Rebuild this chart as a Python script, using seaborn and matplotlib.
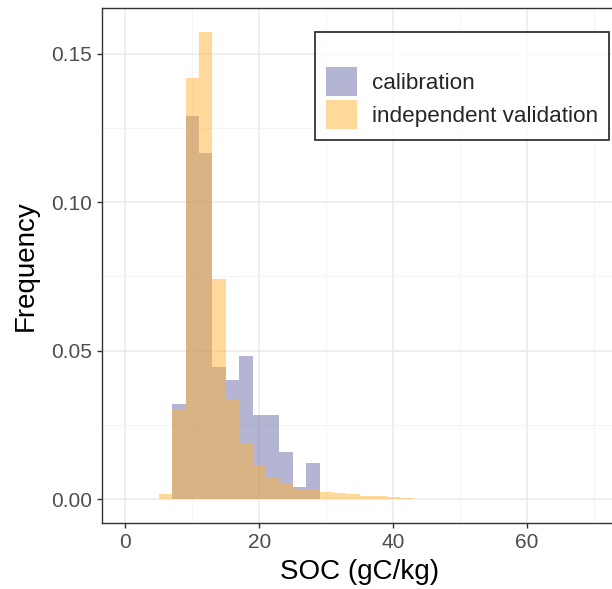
import numpy as np
import pandas as pd
import matplotlib
matplotlib.use("Agg")
import matplotlib.pyplot as plt
from matplotlib.patches import Patch
from matplotlib.ticker import MultipleLocator
import seaborn as sns

# ---- data ----
bin_edges = [5, 7, 9, 11, 13, 15, 17, 19, 21, 23, 25, 27, 29, 31, 33, 35, 37,
             39, 41, 43, 45, 47, 49, 51]
calibration = [0.0, 0.0321, 0.1289, 0.1166, 0.0444, 0.0403, 0.0483, 0.0282,
               0.0282, 0.0160, 0.0040, 0.0121, 0.0, 0.0, 0.0, 0.0, 0.0,
               0.0, 0.0, 0.0, 0.0, 0.0, 0.0]
validation = [0.0017, 0.0304, 0.1418, 0.1574, 0.0741, 0.0338, 0.0188, 0.0112,
              0.0072, 0.0053, 0.0033, 0.0030, 0.0025, 0.0020, 0.0018, 0.0012,
              0.0010, 0.0006, 0.0004, 0.0002, 0.00015, 0.0001, 0.00005]
series_names = ["calibration", "independent validation"]
x_ticks = [0, 20, 40, 60]
y_ticks = [0.00, 0.05, 0.10, 0.15]

edges = [float(e) for e in bin_edges]
centers = [(a + b) / 2 for a, b in zip(edges[:-1], edges[1:])]

c_cal = "#6a6aa8"
c_val = "#ffb337"
alpha = 0.5

sns.set_theme(style="white")
plt.rcParams["font.family"] = ["Liberation Sans", "DejaVu Sans"]

fig = plt.figure(figsize=(6.12, 5.89), dpi=100)
ax = fig.add_axes([102 / 612, 1 - 522.7 / 589, 515.5 / 612, (522.7 - 8.3) / 589])

df_cal = pd.DataFrame({"x": centers, "w": calibration})
df_val = pd.DataFrame({"x": centers, "w": validation})
sns.histplot(data=df_cal, x="x", weights="w", bins=edges, stat="count",
             color=c_cal, alpha=alpha, linewidth=0, ax=ax)
sns.histplot(data=df_val, x="x", weights="w", bins=edges, stat="count",
             color=c_val, alpha=alpha, linewidth=0, ax=ax)

ax.set_xlim(-3.5, 73.5)
ax.set_ylim(-0.0079, 0.1653)
ax.set_xticks(x_ticks)
ax.set_yticks(y_ticks)
ax.set_yticklabels([f"{v:.2f}" for v in y_ticks])
ax.xaxis.set_minor_locator(MultipleLocator(10))
ax.yaxis.set_minor_locator(MultipleLocator(0.025))

ax.set_axisbelow(True)
ax.grid(which="major", color="#ebebeb", linewidth=1.1)
ax.grid(which="minor", color="#f2f2f2", linewidth=0.6)
for s in ax.spines.values():
    s.set_color("#333333")
    s.set_linewidth(1.0)

ax.tick_params(axis="both", which="major", length=3.6, width=1.0, color="#333333",
               labelsize=15, labelcolor="#4d4d4d", pad=3.5, bottom=True, left=True)
ax.tick_params(which="minor", length=0)

ax.set_xlabel("SOC (gC/kg)", fontsize=20, color="black", labelpad=5)
ax.set_ylabel("Frequency", fontsize=20, color="black", labelpad=9)

handles = [Patch(facecolor=c_cal, alpha=alpha, edgecolor="none"),
           Patch(facecolor=c_val, alpha=alpha, edgecolor="none")]
leg = ax.legend(handles, series_names, loc="upper left",
                bbox_to_anchor=((315 - 102) / 515.5, 1 - (32 - 8.3) / 514.4),
                fontsize=16.2, frameon=True, fancybox=False, borderpad=0.5,
                handlelength=1.35, handleheight=1.6, handletextpad=0.68,
                labelspacing=0.2, borderaxespad=0,
                title=" ", title_fontsize=14.5)
leg.get_frame().set_edgecolor("black")
leg.get_frame().set_linewidth(1.3)

fig.savefig("out.png", dpi=100)
